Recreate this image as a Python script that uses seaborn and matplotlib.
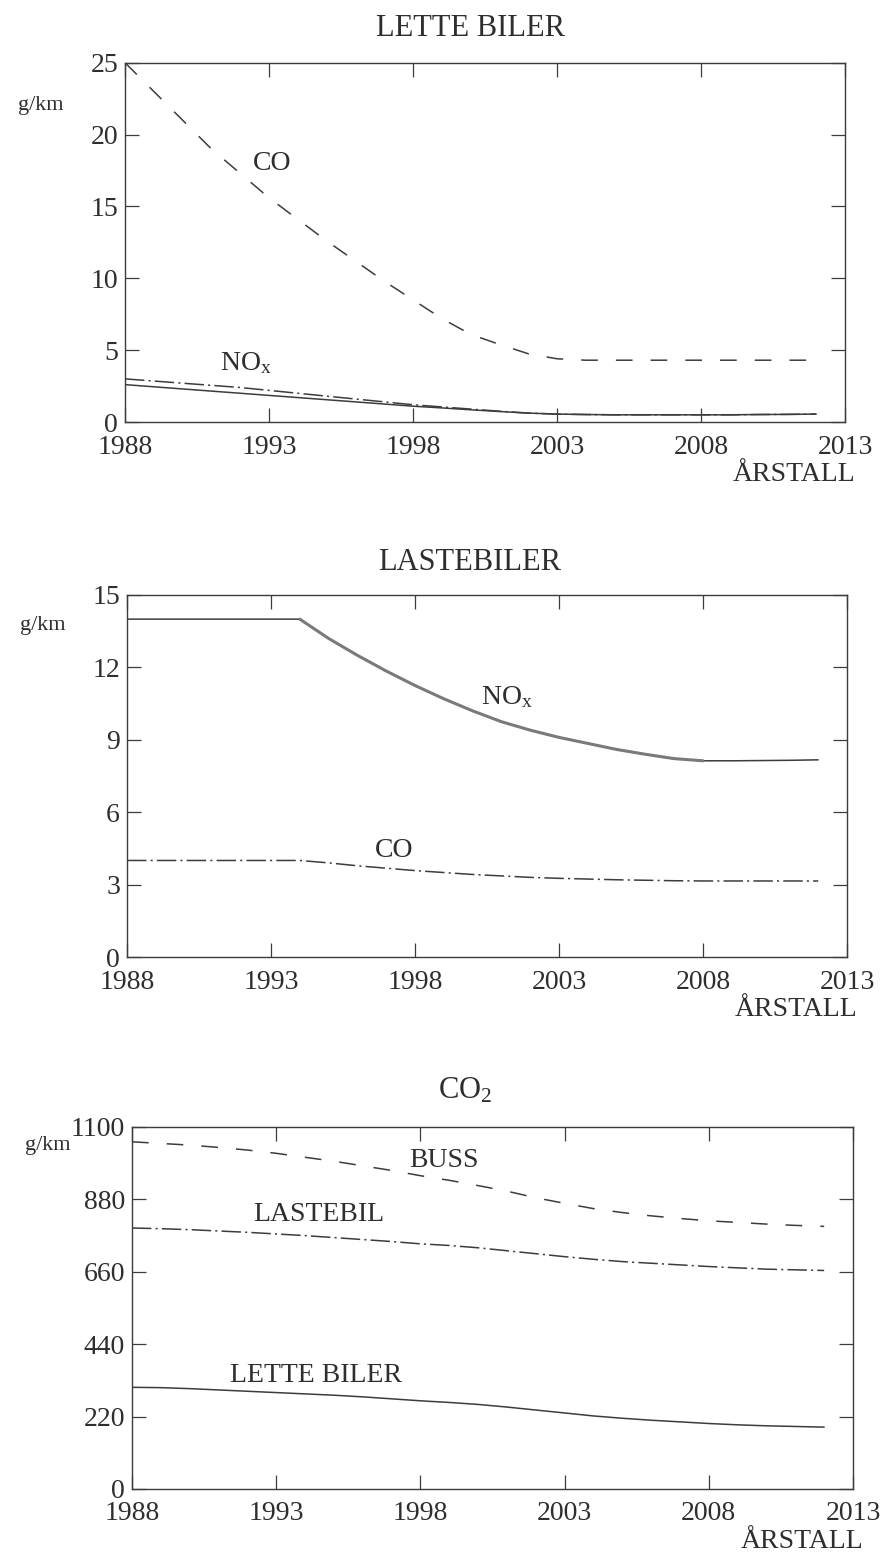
import matplotlib
matplotlib.use("Agg")
import matplotlib.pyplot as plt
import seaborn as sns
import pandas as pd

# ---- data -------------------------------------------------------------
years = list(range(1988, 2013))
x_ticks = [1988, 1993, 1998, 2003, 2008, 2013]

# Light vehicles (g/km)
lette_co = [25.0, 23.0, 21.0, 19.0, 17.3, 15.6, 14.1, 12.6, 11.2, 9.8, 8.5, 7.2,
            6.1, 5.4, 4.75, 4.4, 4.3, 4.3, 4.3, 4.3, 4.3, 4.3, 4.3, 4.3, 4.3]
lette_nox = [3.0, 2.85, 2.7, 2.55, 2.4, 2.2, 2.0, 1.8, 1.6, 1.4, 1.2, 1.05,
             0.9, 0.75, 0.62, 0.55, 0.52, 0.5, 0.5, 0.5, 0.5, 0.5, 0.52, 0.53, 0.55]
lette_hc = [2.6, 2.45, 2.3, 2.15, 2.0, 1.85, 1.7, 1.55, 1.4, 1.25, 1.1, 0.98,
            0.85, 0.73, 0.62, 0.55, 0.52, 0.5, 0.5, 0.5, 0.5, 0.5, 0.52, 0.53, 0.55]
lette_yticks = [0, 5, 10, 15, 20, 25]

# Trucks (g/km)
laste_nox = [14.0, 14.0, 14.0, 14.0, 14.0, 14.0, 14.0, 13.2, 12.5, 11.85, 11.25,
             10.7, 10.2, 9.75, 9.4, 9.1, 8.85, 8.6, 8.4, 8.22, 8.13, 8.13, 8.14,
             8.15, 8.17]
laste_co = [4.0, 4.0, 4.0, 4.0, 4.0, 4.0, 4.0, 3.9, 3.78, 3.68, 3.58, 3.5, 3.42,
            3.36, 3.3, 3.26, 3.23, 3.2, 3.18, 3.16, 3.15, 3.15, 3.15, 3.15, 3.15]
laste_yticks = [0, 3, 6, 9, 12, 15]

# CO2 (g/km)
co2_buss = [1055, 1050, 1045, 1038, 1030, 1020, 1008, 996, 982, 968, 952, 938,
            922, 905, 885, 868, 852, 840, 830, 822, 815, 810, 805, 801, 798]
co2_lastebil = [793, 791, 788, 784, 780, 775, 770, 764, 758, 752, 745, 740, 733,
                724, 715, 706, 698, 691, 686, 681, 676, 672, 668, 666, 664]
co2_lette = [309, 308, 305, 301, 297, 293, 289, 285, 280, 274, 268, 263, 257,
             249, 240, 231, 222, 215, 209, 204, 199, 195, 192, 190, 188]
co2_yticks = [0, 220, 440, 660, 880, 1100]

# ---- style ------------------------------------------------------------
sns.set_style("ticks")
plt.rcParams["font.family"] = ["Liberation Serif", "DejaVu Serif"]
plt.rcParams["mathtext.fontset"] = "custom"
plt.rcParams["mathtext.rm"] = "Liberation Serif"
plt.rcParams["mathtext.it"] = "Liberation Serif:italic"
plt.rcParams["lines.scale_dashes"] = False

INK = "#3c3c3c"
TXT = "#2e2e2e"
DASH = (0, (12, 13))
DASHDOT = (0, (14, 3, 1.5, 3))

W, H = 886, 1561
fig = plt.figure(figsize=(W / 100, H / 100), dpi=100)


def make_axes(left, top, right, bottom):
    return fig.add_axes([left / W, 1 - bottom / H, (right - left) / W, (bottom - top) / H])


def line(ax, x, values, ls, lw=1.1, color=INK):
    df = pd.DataFrame({"year": x, "value": values})
    sns.lineplot(data=df, x="year", y="value", ax=ax, color=color,
                 linewidth=lw, linestyle=ls, errorbar=None)


def style(ax, ymax, yticks, gkm_y):
    ax.set_xlim(1988, 2013)
    ax.set_ylim(0, ymax)
    ax.set_xticks(x_ticks)
    ax.set_yticks(yticks)
    ax.set_xlabel("")
    ax.set_ylabel("")
    ax.tick_params(direction="in", length=10, width=0.9, top=True, right=True,
                   labelsize=20, colors=TXT)
    ax.tick_params(axis="x", pad=9)
    ax.tick_params(axis="y", pad=5)
    ax.tick_params(axis="both", color=INK)
    for s in ax.spines.values():
        s.set_color(INK)
        s.set_linewidth(1.0)
    ax.text(-0.117, gkm_y, "g/km", transform=ax.transAxes, ha="center",
            va="center", fontsize=16, color=TXT)
    ax.text(1.014, -0.145, "ÅRSTALL", transform=ax.transAxes, ha="right",
            va="center", fontsize=20, color=TXT)


def nox_label(ax, x, y):
    ax.text(x, y, r"NO$_{\mathrm{x}}$", ha="left", va="baseline",
            fontsize=20, color=TXT)


# ---- LETTE BILER --------------------------------------------------------
ax1 = make_axes(125, 62.7, 845, 422)
line(ax1, years, lette_co, DASH)
line(ax1, years, lette_nox, DASHDOT)
line(ax1, years, lette_hc, "-")
style(ax1, 25, lette_yticks, 0.88)
ax1.text(1993.1, 18.0, "CO", ha="center", va="center", fontsize=20, color=TXT)
nox_label(ax1, 1991.3, 3.6)
fig.text(470 / W, 1 - 29 / H, "LETTE BILER", ha="center", va="center",
         fontsize=22, color=TXT)

# ---- LASTEBILER ---------------------------------------------------------
ax2 = make_axes(127, 595, 847, 957)
# thin dark trace for the whole series, softer heavy stroke where it declines
line(ax2, years, laste_nox, "-")
falling = [(y, v) for y, v in zip(years, laste_nox) if 1994 <= y <= 2008]
line(ax2, [p[0] for p in falling], [p[1] for p in falling], "-", lw=2.2,
     color="#7a7a7a")
line(ax2, years, laste_co, DASHDOT)
style(ax2, 15, laste_yticks, 0.917)
nox_label(ax2, 2000.3, 10.5)
ax2.text(1996.6, 4.15, "CO", ha="left", va="baseline", fontsize=20, color=TXT)
fig.text(470 / W, 1 - 563 / H, "LASTEBILER", ha="center", va="center",
         fontsize=22, color=TXT)

# ---- CO2 ------------------------------------------------------------------
ax3 = make_axes(132, 1127, 853, 1489)
line(ax3, years, co2_buss, DASH)
line(ax3, years, co2_lastebil, DASHDOT)
line(ax3, years, co2_lette, "-")
style(ax3, 1100, co2_yticks, 0.95)
ax3.text(1997.6, 977, "BUSS", ha="left", va="baseline", fontsize=20, color=TXT)
ax3.text(1992.2, 813, "LASTEBIL", ha="left", va="baseline", fontsize=20, color=TXT)
ax3.text(1991.4, 325, "LETTE BILER", ha="left", va="baseline", fontsize=20, color=TXT)
fig.text(465 / W, 1 - 1091 / H, r"CO$_{\mathrm{2}}$", ha="center", va="center",
         fontsize=22, color=TXT)

fig.savefig("out.png", dpi=100, facecolor="white")
